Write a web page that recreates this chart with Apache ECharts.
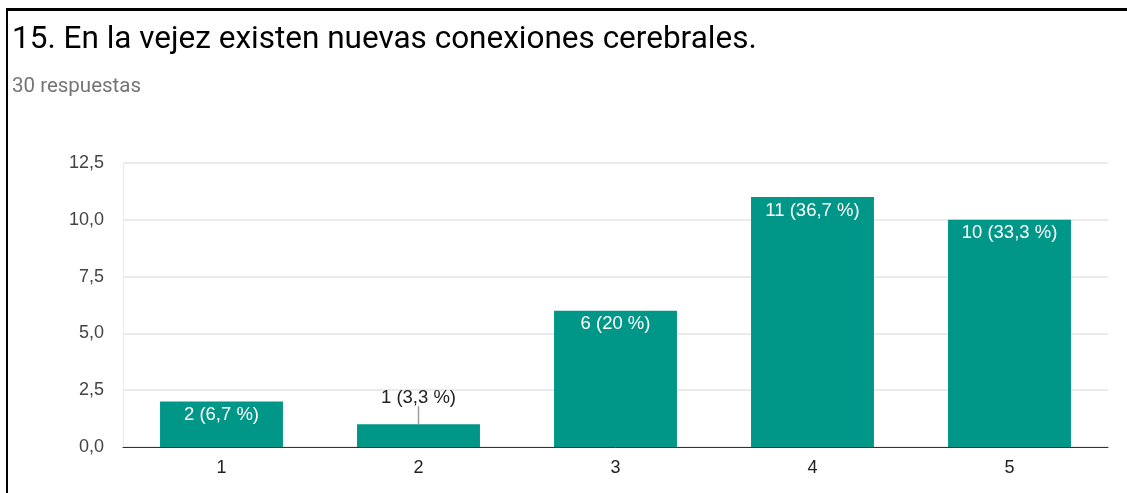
<!DOCTYPE html>
<html><head><meta charset="utf-8">
<script src="https://cdn.jsdelivr.net/npm/echarts@6/dist/echarts.min.js"></script>
<style>html,body{margin:0;padding:0;background:#fff}#c{width:1127px;height:493px}</style>
</head><body><div id="c"></div>
<script>
const categories = ['1', '2', '3', '4', '5'];
const counts = [2, 1, 6, 11, 10];
const percents = ['6,7', '3,3', '20', '36,7', '33,3'];
const yTicks = [0, 2.5, 5, 7.5, 10, 12.5];
const titleText = '15. En la vejez existen nuevas conexiones cerebrales.';
const subText = '30 respuestas';

const chart = echarts.init(document.getElementById('c'), null, {renderer: 'canvas'});
const fmtTick = v => v.toFixed(1).replace('.', ',');
const labelFont = "'Liberation Sans', Arial, sans-serif";
const barData = counts.map((v, i) => {
  const item = {value: v};
  if (v < 2) {
    item.label = {position: 'top', distance: 17, color: '#222', show: true};
  }
  return item;
});
const leaderData = counts.map((v, i) => [i, v]).filter(d => d[1] < 2);
chart.setOption({
  animation: false,
  title: [{
    text: titleText, left: 12, top: 24, padding: 0,
    textStyle: {fontFamily: 'Roboto', fontSize: 31.5, fontWeight: 'normal', color: '#000'}
  }, {
    text: subText, left: 12, top: 76, padding: 0,
    textStyle: {fontFamily: 'Roboto', fontSize: 20.5, fontWeight: 'normal', color: '#757575'}
  }],
  grid: {left: 123, right: 19, top: 163, bottom: 46, containLabel: false},
  xAxis: {
    type: 'category', data: categories,
    axisLine: {show: true, lineStyle: {color: '#333', width: 1}},
    axisTick: {show: false},
    axisLabel: {fontFamily: labelFont, fontSize: 18, color: '#222', margin: 12},
    splitLine: {show: false}
  },
  yAxis: {
    type: 'value', min: 0, max: yTicks[yTicks.length - 1], interval: 2.5,
    axisLine: {show: true, lineStyle: {color: '#ebebeb'}},
    axisTick: {show: false},
    axisLabel: {fontFamily: labelFont, fontSize: 18, color: '#444', margin: 19, formatter: fmtTick},
    splitLine: {show: true, lineStyle: {color: '#ebebeb', width: 2}}
  },
  series: [{
    type: 'bar', data: barData, barCategoryGap: '37.6%',
    itemStyle: {color: '#009688'},
    label: {
      show: true, position: 'insideTop', distance: 4, color: '#fff',
      fontFamily: labelFont, fontSize: 18.5,
      formatter: p => counts[p.dataIndex] + ' (' + percents[p.dataIndex] + ' %)'
    },
    z: 2
  }, {
    type: 'custom', data: leaderData, silent: true, z: 3,
    renderItem: (params, api) => {
      const p = api.coord([api.value(0), api.value(1)]);
      return {type: 'line', shape: {x1: p[0], y1: p[1], x2: p[0], y2: p[1] - 18},
              style: {stroke: '#9e9e9e', lineWidth: 1.5}};
    }
  }],
  graphic: [
    {type: 'rect', shape: {x: 6, y: 8, width: 1121, height: 3}, style: {fill: '#000'}},
    {type: 'rect', shape: {x: 6, y: 8, width: 2, height: 485}, style: {fill: '#000'}}
  ]
});
</script></body></html>
